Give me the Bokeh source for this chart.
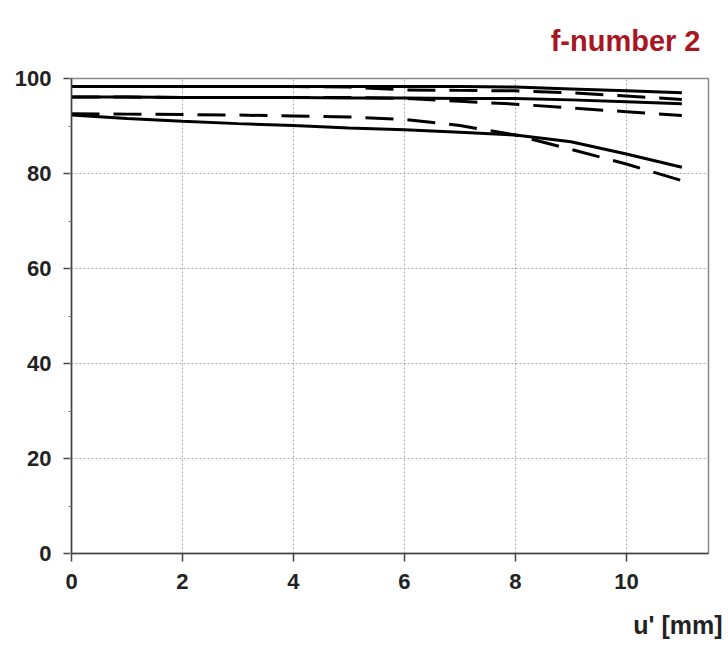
from bokeh.plotting import figure
from bokeh.models import Title, SingleIntervalTicker, Range1d
from bokeh.embed import file_html
from bokeh.resources import INLINE

# u' positions [mm]
x = [0, 1, 2, 3, 4, 5, 6, 7, 8, 9, 10, 11]

# solid curves
s1 = [98.3, 98.3, 98.3, 98.3, 98.3, 98.3, 98.3, 98.3, 98.2, 97.8, 97.4, 97.0]
s2 = [96.1, 96.1, 96.0, 96.0, 96.0, 95.9, 95.9, 95.8, 95.8, 95.5, 95.1, 94.7]
s3 = [92.3, 91.6, 91.0, 90.5, 90.1, 89.6, 89.2, 88.7, 88.1, 86.7, 84.1, 81.3]

# dashed curves
d1 = [98.3, 98.3, 98.3, 98.3, 98.3, 98.2, 97.6, 97.5, 97.4, 97.0, 96.3, 95.6]
d2 = [96.1, 96.1, 96.0, 96.0, 96.0, 96.0, 95.8, 95.2, 94.6, 93.8, 93.0, 92.2]
d3 = [92.6, 92.5, 92.4, 92.3, 92.1, 91.9, 91.4, 90.1, 88.1, 85.1, 82.0, 78.5]

x_ticks_interval = 2
y_ticks_interval = 20
title_text = "f-number 2"
x_label_text = "u' [mm]"

p = figure(width=728, height=656, output_backend="svg", toolbar_location=None,
           x_range=Range1d(0, 11.48), y_range=Range1d(0, 100),
           min_border_left=71, min_border_right=20, min_border_top=78,
           min_border_bottom=103)
p.background_fill_color = "white"
p.border_fill_color = "white"
p.outline_line_color = "#888888"
p.outline_line_width = 1.5

for ys in (s1, s2, s3):
    p.line(x, ys, line_color="black", line_width=3)
for ys in (d1, d2, d3):
    p.line(x, ys, line_color="black", line_width=3, line_dash="28 14")

p.xaxis.ticker = SingleIntervalTicker(interval=x_ticks_interval, num_minor_ticks=0)
p.yaxis.ticker = SingleIntervalTicker(interval=y_ticks_interval, num_minor_ticks=2)

for ax in (p.xaxis, p.yaxis):
    ax.axis_line_color = "#444444"
    ax.axis_line_width = 1.5
    ax.major_tick_line_color = "#444444"
    ax.major_tick_line_width = 1.5
    ax.major_tick_out = 8
    ax.major_tick_in = 0
    ax.minor_tick_out = 3
    ax.minor_tick_in = 0
    ax.minor_tick_line_color = "#777777"
    ax.major_label_text_font = "Liberation Sans"
    ax.major_label_text_font_style = "bold"
    ax.major_label_text_font_size = "22px"
    ax.major_label_text_color = "#222222"
p.xaxis.minor_tick_line_color = None
p.xaxis.major_label_standoff = 12
p.yaxis.major_label_standoff = 12

p.xgrid.ticker = SingleIntervalTicker(interval=x_ticks_interval)
p.ygrid.ticker = SingleIntervalTicker(interval=y_ticks_interval)
for g in (p.xgrid, p.ygrid):
    g.grid_line_color = "#aaaaaa"
    g.grid_line_dash = "2 2"
    g.grid_line_width = 1

p.add_layout(Title(text=title_text, align="right", offset=8, standoff=44,
                   text_font="Liberation Sans", text_font_style="bold",
                   text_font_size="29px", text_color="#a8161f"), "above")
p.add_layout(Title(text=x_label_text, align="right", offset=-14, standoff=35,
                   text_font="Liberation Sans", text_font_style="bold",
                   text_font_size="25px", text_color="#222222"), "below")

open("out.html", "w").write(file_html(p, INLINE))
